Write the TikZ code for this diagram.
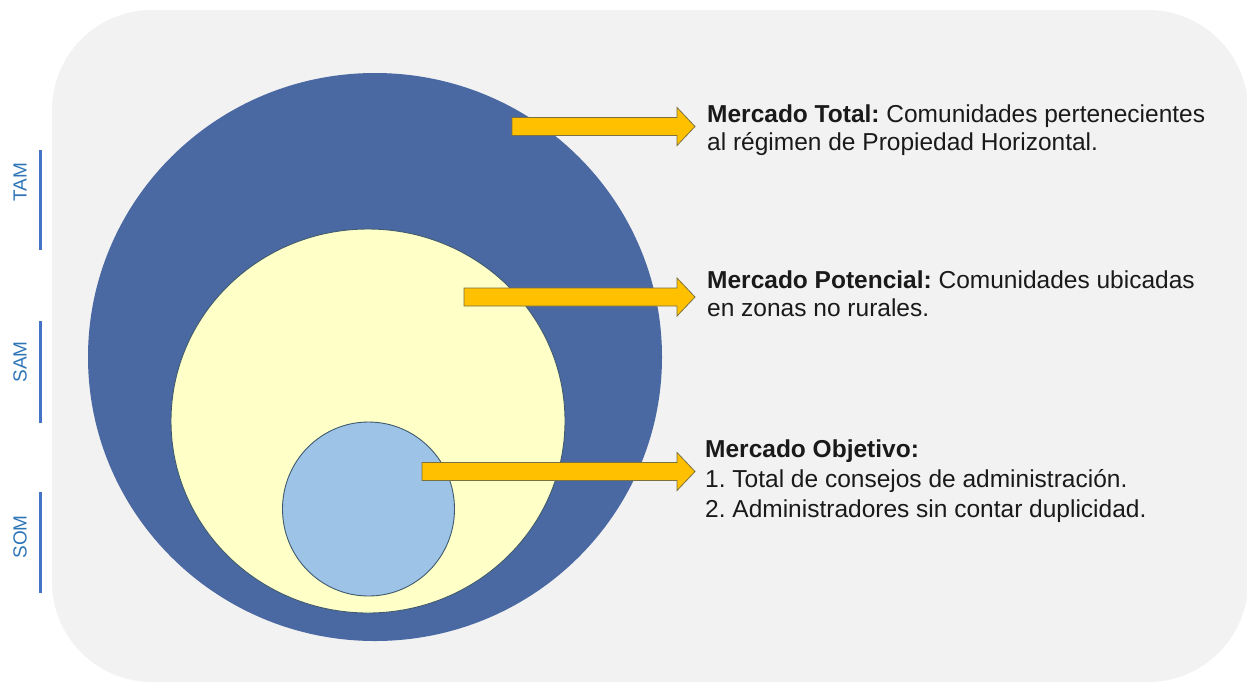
\documentclass[tikz,border=0pt]{standalone}
\usepackage{fontspec}
\setmainfont{Liberation Sans}
\definecolor{bgc}{HTML}{F2F2F2}
\definecolor{tamc}{HTML}{4A69A3}
\definecolor{samc}{HTML}{FFFFC8}
\definecolor{somc}{HTML}{9DC3E6}
\definecolor{ringc}{HTML}{3F5A6E}
\definecolor{arrf}{HTML}{FFC000}
\definecolor{arrd}{HTML}{7A7040}
\definecolor{lblc}{HTML}{2E75B6}
\definecolor{barc}{HTML}{4472C4}
\definecolor{txtc}{HTML}{1A1A1A}
\newcommand\yarrow[3]{%
  \draw[arrowshape] (#1,#2-9) -- (#3-18,#2-9) -- (#3-18,#2-19) -- (#3,#2)
    -- (#3-18,#2+19) -- (#3-18,#2+9) -- (#1,#2+9) -- cycle;}
\begin{document}
\frenchspacing
\begin{tikzpicture}[x=1pt,y=-1pt,
  arrowshape/.style={fill=arrf, draw=arrd, line width=0.8pt, line join=miter},
  txt/.style={anchor=north west, align=left, inner sep=0pt, text=txtc,
    font=\fontsize{24.5}{28}\selectfont},
  lbl/.style={rotate=90, text=lblc, inner sep=0pt, font=\fontsize{19}{19}\selectfont},
  bar/.style={draw=barc, line width=3pt}]
\useasboundingbox (0,0) rectangle (1247,681);
\fill[bgc, rounded corners=100pt] (52,10) rectangle (1248,682);
% circles
\fill[tamc] (375,357) ellipse [x radius=287, y radius=284];
\coordinate (tam) at (375,357);
\draw[fill=samc, draw=ringc, line width=0.9pt] (368,421) ellipse [x radius=197, y radius=192];
\coordinate (sam) at (368,421);
\draw[fill=somc, draw=ringc, line width=0.9pt] (368.5,509) ellipse [x radius=86, y radius=87];
\coordinate (som) at (368.5,509);
% arrows
\yarrow{512}{126.5}{695}
\yarrow{464}{297}{695}
\yarrow{422}{471.5}{695}
% texts
\node[txt] (t1) at (707,105) {\textbf{Mercado Total:} Comunidades pertenecientes\\al régimen de Propiedad Horizontal.};
\node[txt] (t2) at (707,271) {\textbf{Mercado Potencial:} Comunidades ubicadas\\en zonas no rurales.};
\node[txt, font=\fontsize{24.5}{30}\selectfont] (t3) at (705,440) {\textbf{Mercado Objetivo:}\\1. Total de consejos de administración.\\2. Administradores sin contar duplicidad.};
% side labels
\node[lbl] (ltam) at (20,182) {TAM};
\node[lbl] (lsam) at (20,362) {SAM};
\node[lbl] (lsom) at (20,537) {SOM};
\draw[bar] (40,150) -- (40,250);
\draw[bar] (40,321) -- (40,423);
\draw[bar] (40,492) -- (40,593);
\end{tikzpicture}
\end{document}
